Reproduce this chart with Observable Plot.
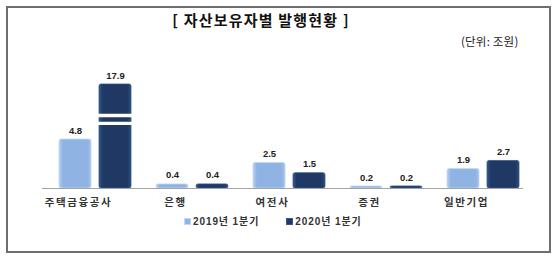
<!DOCTYPE html>
<html>
<head>
<meta charset="utf-8">
<script src="https://cdn.jsdelivr.net/npm/d3@7"></script>
<script src="https://cdn.jsdelivr.net/npm/@observablehq/plot@0.6"></script>
<style>
  html, body { margin: 0; padding: 0; background: #fff; }
  #wrap { position: relative; width: 555px; height: 256px; overflow: hidden; font-family: "Noto Sans CJK KR", sans-serif; }
  #frame { position: absolute; left: 6px; top: 6px; width: 541px; height: 243px; border: 2px solid #6e6e6e; box-sizing: content-box; }
  #title { position: absolute; left: 0; width: 522px; top: 9px; text-align: center; font-size: 15px; font-weight: bold; color: #111; line-height: 22px; letter-spacing: 1.2px; }
  #unit { position: absolute; left: 461px; top: 32px; font-size: 11.5px; color: #222; line-height: 18px; letter-spacing: 0.2px; }
  #legend { position: absolute; left: 184px; top: 215px; font-family: "Liberation Sans", "Noto Sans CJK KR", sans-serif; font-size: 10px; font-weight: bold; color: #333; line-height: 14px; display: flex; gap: 27px; letter-spacing: 0.9px; }
  .sw { display: inline-block; width: 7px; height: 7px; margin-right: 2px; vertical-align: 0px; box-sizing: border-box; }
  #chart { position: absolute; left: 0; top: 0; }
</style>
</head>
<body>
<div id="wrap">
  <div id="frame"></div>
  <div id="chart"></div>
  <div id="title">[ 자산보유자별 발행현황 ]</div>
  <div id="unit">(단위: 조원)</div>
  <div id="legend"></div>
</div>
<script>
const categories = ["주택금융공사", "은행", "여전사", "증권", "일반기업"];
const values2019 = [4.8, 0.4, 2.5, 0.2, 1.9];
const values2020 = [17.9, 0.4, 1.5, 0.2, 2.7];
const seriesNames = ["2019년 1분기", "2020년 1분기"];
const seriesColors = ["#8fb4e3", "#1f3864"];
const axisBreakStart = 6;        // value above which the axis is compressed
const breakValues = [7.1, 9.3];  // where the white break gaps are drawn

const rows = categories.map((c, i) => ({category: c, v2019: values2019[i], v2020: values2020[i]}));
const breakRows = rows
  .filter(d => d.v2020 > axisBreakStart)
  .flatMap(d => breakValues.map(b => ({category: d.category, y: b})));

const numFont = "Liberation Sans, Arial, sans-serif";
const korFont = "Noto Sans CJK KR, sans-serif";

const chart = Plot.plot({
  width: 555,
  height: 256,
  marginLeft: 58,
  marginRight: 35,
  marginTop: 0,
  marginBottom: 0,
  style: {background: "transparent", overflow: "visible"},
  x: {domain: categories, paddingInner: 0.26, paddingOuter: 0, axis: null},
  y: {type: "linear", domain: [0, axisBreakStart, 17.9], range: [188, 126.8, 84], axis: null},
  marks: [
    Plot.barY(rows, {x: "category", y: "v2019", fill: "url(#gLight)", stroke: "#c2d7f2", strokeWidth: 0.8, insetRight: 40, rx: 2}),
    Plot.barY(rows, {x: "category", y: "v2020", fill: "url(#gDark)", stroke: "#34598b", strokeWidth: 0.8, insetLeft: 40, rx: 2}),
    Plot.tickY(breakRows, {x: "category", y: "y", stroke: "white", strokeWidth: 3.4, insetLeft: 38, insetRight: -2}),
    Plot.ruleY([0], {stroke: "#a3a3a3", strokeWidth: 1, insetLeft: -16, insetRight: -3}),
    Plot.text(rows, {x: "category", y: "v2019", text: d => d.v2019.toFixed(1), dx: -20, dy: -9,
      fontFamily: numFont, fontSize: 9.5, fontWeight: "bold", fill: "#222"}),
    Plot.text(rows, {x: "category", y: "v2020", text: d => d.v2020.toFixed(1), dx: 20, dy: -9,
      fontFamily: numFont, fontSize: 9.5, fontWeight: "bold", fill: "#222"}),
    Plot.text(rows, {x: "category", y: () => 0, text: "category", dx: -17, dy: 14,
      fontFamily: korFont, fontSize: 10.5, fontWeight: "bold", fill: "#333"})
  ]
});

const defs = d3.select(chart).insert("defs", ":first-child");
function grad(id, edge, body, edge2) {
  const g = defs.append("linearGradient").attr("id", id).attr("x1", 0).attr("x2", 1).attr("y1", 0).attr("y2", 0);
  [[0, edge], [0.12, body], [0.88, body], [1, edge2]].forEach(([o, c]) =>
    g.append("stop").attr("offset", o).attr("stop-color", c));
}
grad("gLight", "#b9d0ef", seriesColors[0], "#a4c1e9");
grad("gDark", "#34578a", seriesColors[1], "#2c4c7c");
d3.select(chart).selectAll("text")
  .filter(function () { return categories.includes(this.textContent); })
  .style("letter-spacing", "1.6px");

document.getElementById("chart").appendChild(chart);

const legend = document.getElementById("legend");
seriesNames.forEach((name, i) => {
  const item = document.createElement("span");
  const sw = document.createElement("span");
  sw.className = "sw";
  sw.style.background = seriesColors[i];
  sw.style.border = "1px solid " + (i === 0 ? "#c2d7f2" : "#34598b");
  item.appendChild(sw);
  item.appendChild(document.createTextNode(name));
  legend.appendChild(item);
});
</script>
</body>
</html>
